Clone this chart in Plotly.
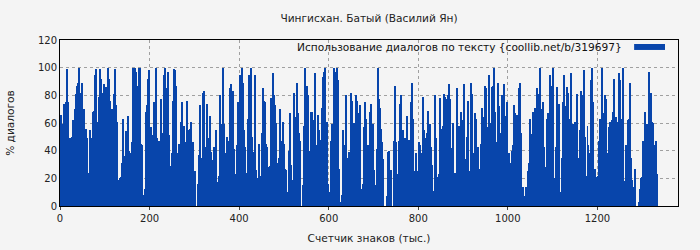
import numpy as np
import plotly.graph_objects as go

title = "Чингисхан. Батый (Василий Ян)"
series_name = "Использование диалогов по тексту {coollib.net/b/319697}"
x_title = "Счетчик знаков (тыс.)"
y_title = "% диалогов"
x_ticks = [0, 200, 400, 600, 800, 1000, 1200]
y_ticks = [0, 20, 40, 60, 80, 100, 120]

# % of dialogue per text chunk (left to right)
part1 = [49, 66, 59, 24, 74, 66, 75, 99, 75, 22, 49, 36, 50, 62, 58, 70, 81, 87, 89, 100,
         75, 82, 89, 64, 70, 27, 56, 49, 15, 24, 55, 36, 49, 68, 69, 95, 99, 61, 17, 79,
         99, 92, 82, 80, 88, 69, 86, 76, 100, 92, 76, 49, 70, 46, 81, 99, 73, 61, 0, 19,
         20, 21, 31, 63, 36, 16, 54, 33, 65, 40, 0, 38, 46, 100, 64, 100, 97, 69, 87, 100,
         100, 45, 44, 5, 8, 12, 68, 73, 92, 98, 31, 57, 37, 51, 75, 51, 100, 49, 47, 47]
part2 = [47, 77, 53, 49, 95, 100, 80, 85, 97, 51, 18, 29, 38, 76, 99, 98, 87, 38, 0, 45,
         4, 61, 75, 43, 58, 34, 46, 76, 55, 27, 56, 61, 35, 46, 18, 25, 0, 0, 16, 37,
         73, 7, 35, 82, 83, 43, 37, 74, 49, 44, 65, 39, 33, 27, 43, 7, 55, 9, 17, 22,
         80, 52, 59, 100, 59, 38, 12, 50, 47, 43, 85, 88, 25, 83, 41, 41, 23, 44, 50, 75,
         57, 95, 53, 100, 89, 55, 43, 24, 12, 63, 95, 41, 100, 50, 39, 13, 95, 26, 20]
part3 = [20, 45, 22, 22, 53, 85, 76, 75, 45, 43, 21, 28, 29, 78, 63, 96, 80, 73, 60, 31,
         4, 35, 70, 15, 47, 61, 45, 27, 26, 10, 5, 40, 67, 30, 19, 14, 82, 51, 64, 89,
         67, 53, 47, 0, 0, 15, 58, 100, 85, 87, 80, 22, 40, 68, 68, 27, 62, 96, 38, 44,
         66, 55, 41, 48, 71, 93, 97, 100, 41, 61, 16, 8, 10, 47, 59, 44, 100, 56, 97, 100,
         91, 27, 0, 3, 8, 55, 44, 12, 80, 34, 35, 39, 39, 82, 76, 47, 60, 55, 80, 76, 67]
part4 = [67, 73, 12, 10, 16, 57, 75, 63, 40, 44, 36, 68, 74, 46, 59, 26, 0, 15, 41, 100,
         77, 71, 56, 46, 34, 0, 0, 0, 7, 39, 40, 12, 26, 0, 0, 47, 87, 46, 22, 23,
         47, 74, 80, 42, 55, 40, 49, 43, 65, 20, 48, 25, 75, 89, 63, 16, 25, 38, 25, 19,
         46, 44, 38, 31, 79, 55, 49, 46, 53, 69, 47, 59, 43, 30, 11, 4, 80, 49, 10, 21,
         23, 78, 56, 53, 58, 81, 79, 32, 77, 80, 88, 77, 42, 14, 60, 6, 24, 16, 85, 58]
part5 = [58, 34, 68, 49, 62, 88, 7, 34, 50, 76, 25, 0, 89, 81, 38, 18, 67, 63, 38, 43,
         27, 15, 45, 71, 55, 64, 87, 85, 47, 57, 95, 60, 28, 86, 87, 100, 68, 30, 46, 89,
         72, 36, 53, 80, 76, 88, 63, 65, 75, 35, 38, 31, 23, 40, 44, 73, 67, 53, 66, 54,
         85, 89, 53, 14, 14, 0, 7, 14, 12, 25, 31, 63, 48, 52, 68, 57, 71, 56, 85, 81,
         35, 100, 56, 70, 75, 43, 11, 28, 63, 67, 46, 95, 87, 50, 100, 19, 20, 43, 86, 74]
part6 = [74, 10, 10, 35, 75, 95, 56, 72, 86, 82, 63, 62, 96, 35, 59, 35, 61, 60, 81, 25,
         35, 55, 83, 33, 80, 98, 77, 50, 22, 58, 44, 38, 25, 91, 100, 75, 27, 27, 12, 21,
         22, 47, 63, 31, 100, 67, 52, 80, 77, 38, 26, 57, 61, 48, 62, 68, 92, 57, 64, 61,
         59, 96, 91, 63, 48, 100, 5, 18, 44, 12, 62, 63, 89, 35, 19, 6, 14, 27, 0, 0,
         0, 3, 12, 20, 21, 47, 46, 68, 51, 59, 36, 97, 82, 82, 61, 60, 44, 23, 47, 23]

values = part1 + part2 + part3 + part4 + part5 + part6
chunk_step = 1336 / len(values)  # thousand characters per chunk
counter = [i * chunk_step for i in range(len(values))]

bar_color = "#0845ab"
bg = "#f4f4f4"
font = "DejaVu Sans"

fig = go.Figure()
fig.add_trace(go.Bar(x=counter, y=values, name=series_name,
                     marker=dict(color=bar_color, line=dict(width=0)),
                     width=chunk_step, showlegend=False))

fig.update_layout(
    width=700, height=250,
    margin=dict(l=60, r=22, t=40, b=44),
    paper_bgcolor=bg, plot_bgcolor=bg,
    font=dict(family=font, size=10, color="#222"),
    title=dict(text=title, x=0.5, xref="paper", xanchor="center", y=0.925, yanchor="middle",
               font=dict(size=10.6, family=font, color="#222")),
    bargap=0,
    xaxis=dict(range=[0, 1380], tickvals=x_ticks, ticks="outside", ticklen=3,
               showline=True, linecolor="black", linewidth=1, mirror=True,
               showgrid=True, gridcolor="#a0a0a0", griddash="dot", gridwidth=1,
               zeroline=False, automargin=False,
               title=dict(text=x_title, font=dict(size=10.6), standoff=11)),
    yaxis=dict(range=[0, 120], tickvals=y_ticks, ticks="", ticklen=0,
               showline=True, linecolor="black", linewidth=1, mirror=True,
               showgrid=True, gridcolor="#a0a0a0", griddash="dot", gridwidth=1,
               zeroline=False, automargin=False,
               title=dict(text=y_title, font=dict(size=10.6), standoff=21)),
)

# legend drawn as text + swatch (swatch on the right, as in the original)
fig.add_annotation(xref="paper", yref="paper", x=0.913, y=0.958, xanchor="right",
                   yanchor="middle", text=series_name, showarrow=False,
                   font=dict(size=10.6, family=font, color="#111"))
fig.add_shape(type="rect", xref="paper", yref="paper", x0=0.929, x1=0.979,
              y0=0.94, y1=0.976, fillcolor=bar_color, line=dict(width=0))

fig.write_html("out.html")
